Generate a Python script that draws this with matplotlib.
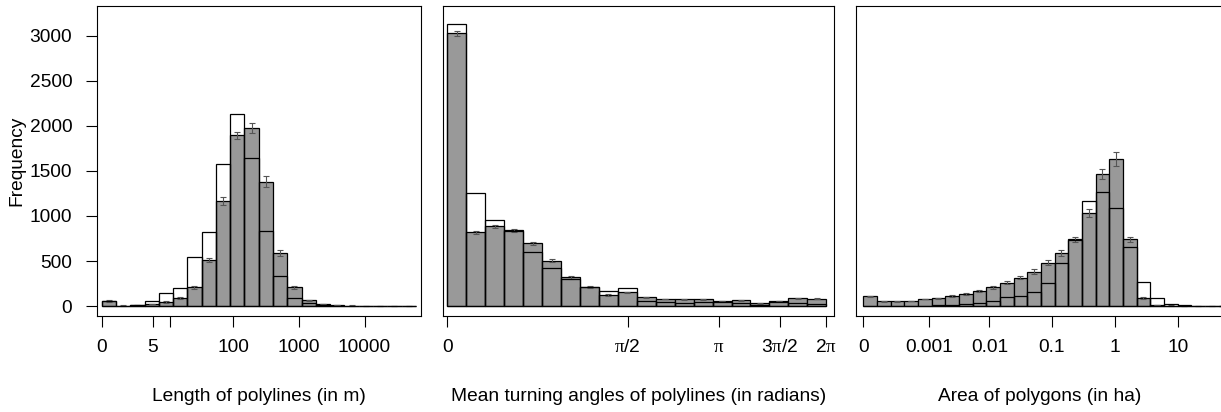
import numpy as np
import matplotlib.pyplot as plt

plt.rcParams['font.family'] = ['Liberation Sans', 'DejaVu Sans']
plt.rcParams['mathtext.fontset'] = 'custom'
plt.rcParams['mathtext.rm'] = 'Liberation Sans'
plt.rcParams['mathtext.it'] = 'Liberation Serif'

# --- data (counts per bin; bins are equal width on a log10(x + 1) axis) ---
# length of polylines (m)
len_sim = [60, 5, 12, 22, 45, 89, 207, 509, 1167, 1896, 1981, 1381, 589, 207, 63, 22, 11, 5, 3, 2, 1, 1]
len_err = [12, 2, 3, 5, 8, 10, 16, 20, 40, 40, 55, 60, 30, 14, 8, 4, 2, 1, 1, 0, 0, 0]
len_obs = [55, 3, 8, 60, 139, 196, 548, 817, 1578, 2137, 1640, 837, 337, 89, 37, 12, 5, 3, 1, 1, 1, 0]
len_ticks = [0, 5, 10, 100, 1000, 10000]
len_labels = ['0', '5', '', '100', '1000', '10000']

# mean turning angles (radians)
ang_sim = [3030, 819, 885, 840, 696, 504, 319, 207, 122, 152, 96, 78, 74, 74, 56, 63, 30, 56, 85, 81]
ang_err = [25, 15, 20, 15, 20, 15, 15, 10, 8, 8, 6, 5, 5, 5, 4, 5, 3, 5, 6, 6]
ang_obs = [3133, 1252, 952, 837, 596, 422, 296, 207, 167, 196, 56, 44, 37, 41, 45, 37, 15, 41, 30, 22]
ang_ticks = [0, np.pi / 2, np.pi, 3 * np.pi / 2, 2 * np.pi]
ang_labels = ['0', r'$\pi/2$', r'$\pi$', r'$3\pi/2$', r'$2\pi$']

# area of polygons (ha)
area_sim = [107, 52, 52, 56, 78, 85, 111, 133, 163, 207, 259, 315, 381, 481, 589, 741,
            1030, 1467, 1637, 741, 89, 11, 5, 2, 1, 1, 0]
area_err = [8, 4, 4, 4, 5, 6, 8, 9, 10, 14, 16, 18, 26, 30, 30, 29, 44, 55, 78, 26, 8, 2, 1, 1, 0, 0, 0]
area_obs = [4, 2, 2, 3, 4, 6, 11, 19, 30, 59, 96, 111, 159, 259, 474, 733,
            1167, 1263, 1085, 659, 267, 93, 22, 7, 3, 1, 1]
area_ticks = [0, 0.001, 0.01, 0.1, 1, 10]
area_labels = ['0', '0.001', '0.01', '0.1', '1', '10']

W, H = 1221, 412
FS = 13.8
fig = plt.figure(figsize=(W / 100, H / 100), dpi=100)


def panel(box, sim, err, obs, k, bw, xlim_t, ticks, labels, xlabel):
    left, right = box
    ax = fig.add_axes([left / W, (H - 316) / H, (right - left) / W, 310 / H])

    def fwd(x):
        return np.log10(np.asarray(x, dtype=float) * k + 1)

    def inv(y):
        return (10 ** np.asarray(y, dtype=float) - 1) / k

    ax.set_xscale('function', functions=(fwd, inv))
    n = len(sim)
    t_edges = np.arange(n + 1) * bw
    edges = inv(t_edges)
    mids = inv(t_edges[:-1] + bw / 2)
    widths = np.diff(edges)
    ax.bar(edges[:-1], sim, width=widths, align='edge', color='#999999',
           edgecolor='black', linewidth=0.9, zorder=2)
    ax.errorbar(mids, sim, yerr=err, fmt='none', ecolor='#555555',
                elinewidth=0.8, capsize=2, capthick=0.8, zorder=3)
    ax.bar(edges[:-1], obs, width=widths, align='edge', fill=False,
           edgecolor='black', linewidth=0.9, zorder=4)

    ax.set_xlim(inv(xlim_t[0]), inv(xlim_t[1]))
    ax.set_ylim(-111, 3333)
    ax.set_xticks(ticks)
    ax.set_xticklabels(labels)
    ax.minorticks_off()
    ax.tick_params(axis='x', length=7.9, width=0.8, pad=9, labelsize=FS)
    ax.set_xlabel(xlabel, fontsize=FS)
    ax.xaxis.set_label_coords(0.5, -0.232)
    for s in ax.spines.values():
        s.set_linewidth(0.8)
    return ax


ax1 = panel((97, 421), len_sim, len_err, len_obs, 1, 0.2173, (-0.0715, 4.860),
            len_ticks, len_labels, 'Length of polylines (in m)')
ax1.set_yticks([0, 500, 1000, 1500, 2000, 2500, 3000])
ax1.tick_params(axis='y', length=7.9, width=0.8, pad=10, labelsize=FS)
ax1.set_ylabel('Frequency', fontsize=FS)
ax1.yaxis.set_label_coords(-0.22, 0.5)

ax2 = panel((443, 834), ang_sim, ang_err, ang_obs, 1, np.log10(1 + 2 * np.pi) / 20,
            (-0.0102, 0.880), ang_ticks, ang_labels,
            'Mean turning angles of polylines (in radians)')
ax2.set_yticks([])

ax3 = panel((856, 1224), area_sim, area_err, area_obs, 1e4, 0.2173, (-0.116, 5.736),
            area_ticks, area_labels, 'Area of polygons (in ha)')
ax3.set_yticks([])

fig.savefig('out.png', dpi=100)
